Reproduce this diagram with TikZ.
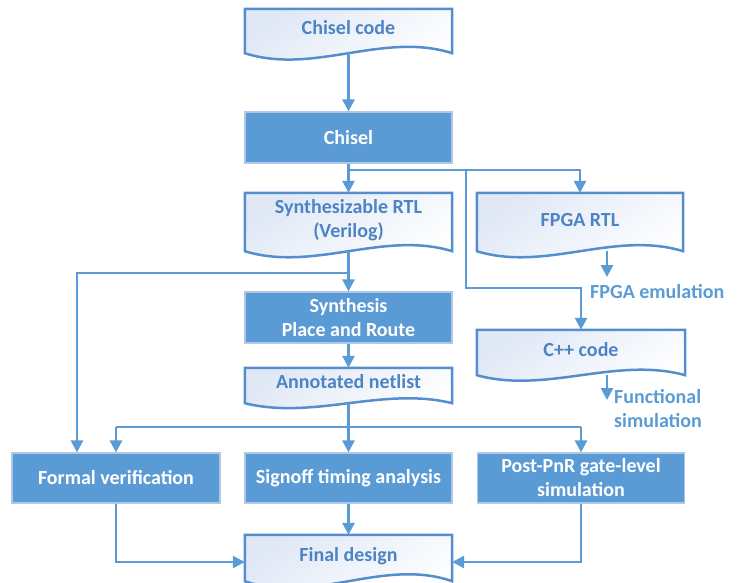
\documentclass[tikz,border=0pt]{standalone}
\usepackage{fontspec}
\setmainfont{Carlito}
\usetikzlibrary{arrows.meta,calc}
\definecolor{boxblue}{RGB}{91,155,213}
\definecolor{boxedge}{RGB}{175,200,228}
\definecolor{docedge}{RGB}{84,142,206}
\definecolor{doctext}{RGB}{76,132,196}
\definecolor{labtext}{RGB}{91,155,213}
\definecolor{docfill}{RGB}{224,232,246}
\newcommand\docoutline[2]{%
  \draw[docline, top color=docfill, bottom color=white, shading angle=35]
    (#1.north west) -- (#1.north east) -- (#1.south east)
    .. controls ([yshift=#2]$(#1.south east)!1/3!(#1.south west)$)
    and ([yshift=-#2]$(#1.south east)!2/3!(#1.south west)$) .. (#1.south west) -- cycle;}
\begin{document}
\begin{tikzpicture}[x=1pt,y=-1pt,
  every node/.style={font=\fontsize{20}{24}\selectfont\bfseries, inner sep=0pt},
  docline/.style={draw=docedge, line width=2.5pt},
  docnode/.style={minimum width=207pt, text=doctext, align=center},
  procbox/.style={fill=boxblue, draw=boxedge, line width=1.2pt, minimum width=207pt, minimum height=51pt, text=white, align=center},
  lab/.style={text=labtext, align=left},
  conn/.style={draw=boxblue, line width=2.6pt},
  arr/.style={conn, -{Triangle[width=12pt,length=12pt]}}]
\useasboundingbox (0,0) rectangle (739,582);

% document-shape nodes
\node[docnode, minimum height=44pt] (code) at (348.5,31) {};
\node[docnode, minimum height=58pt] (srtl) at (348.5,222) {};
\node[docnode, minimum height=58pt, minimum width=206pt] (fpga) at (580,222) {};
\node[docnode, minimum height=45pt, minimum width=208pt] (cpp) at (581,352.5) {};
\node[docnode, minimum height=35pt] (net) at (348.5,385.5) {};
\node[docnode, minimum height=46pt] (final) at (348.5,558) {};
\docoutline{code}{22pt}
\docoutline{srtl}{21pt}
\docoutline{fpga}{21pt}
\docoutline{cpp}{19pt}
\docoutline{net}{17pt}
\docoutline{final}{24pt}
\node[text=doctext] at (348.5,28) {Chisel code};
\node[text=doctext, align=center] at (348.5,220) {Synthesizable RTL\\(Verilog)};
\node[text=doctext] at (580,220) {FPGA RTL};
\node[text=doctext] at (581,350) {C++ code};
\node[text=doctext] at (348.5,382) {Annotated netlist};
\node[text=doctext] at (348.5,556) {Final design};

% process boxes
\node[procbox] (chisel) at (348.5,137.5) {Chisel};
\node[procbox] (synth) at (348.5,317.5) {Synthesis\\Place and Route};
\node[procbox, minimum height=50pt, minimum width=208pt] (formal) at (116,478) {Formal verification};
\node[procbox, minimum height=50pt] (signoff) at (348.5,478) {Signoff timing analysis};
\node[procbox, minimum height=50pt] (post) at (581,478) {Post-PnR gate-level\\simulation};

% labels
\node[lab, anchor=west] (fpgaemu) at (590,292) {FPGA emulation};
\node[lab, anchor=north west] (funcsim) at (614,389) {Functional\\simulation};

% coordinates
\coordinate (j1) at (348.5,170);
\coordinate (j2) at (466,170);
\coordinate (j3) at (466,288);
\coordinate (j4) at (348.5,273);
\coordinate (j5) at (77,273);
\coordinate (j6) at (348.5,427);
\coordinate (j7) at (116,427);
\coordinate (j8) at (581,427);
\coordinate (fe) at (607,277);
\coordinate (fs) at (607,400);
\coordinate (fin) at (0,562);

% connectors
\draw[arr] (code.south) -- (chisel.north);
\draw[arr] (chisel.south) -- (srtl.north);
\draw[arr] (j1) -| (fpga.north);
\draw[arr] (j2) -- (j3) -| (cpp.north);
\draw[arr] (fe |- fpga.south) -- (fe);
\draw[arr] (fs |- cpp.south) -- (fs);
\draw[arr] (srtl.south) -- (synth.north);
\draw[arr] (j4) -- (j5) -- (j5 |- formal.north);
\draw[arr] (synth.south) -- (net.north);
\draw[arr] (net.south) -- (signoff.north);
\draw[arr] (j7) -- (formal.north);
\draw[conn] (j7) -- (j8);
\draw[arr] (j8) -- (post.north);
\draw[arr] (signoff.south) -- (final.north);
\draw[arr] (formal.south) |- (final.west |- fin);
\draw[arr] (post.south) |- (final.east |- fin);
\end{tikzpicture}
\end{document}
